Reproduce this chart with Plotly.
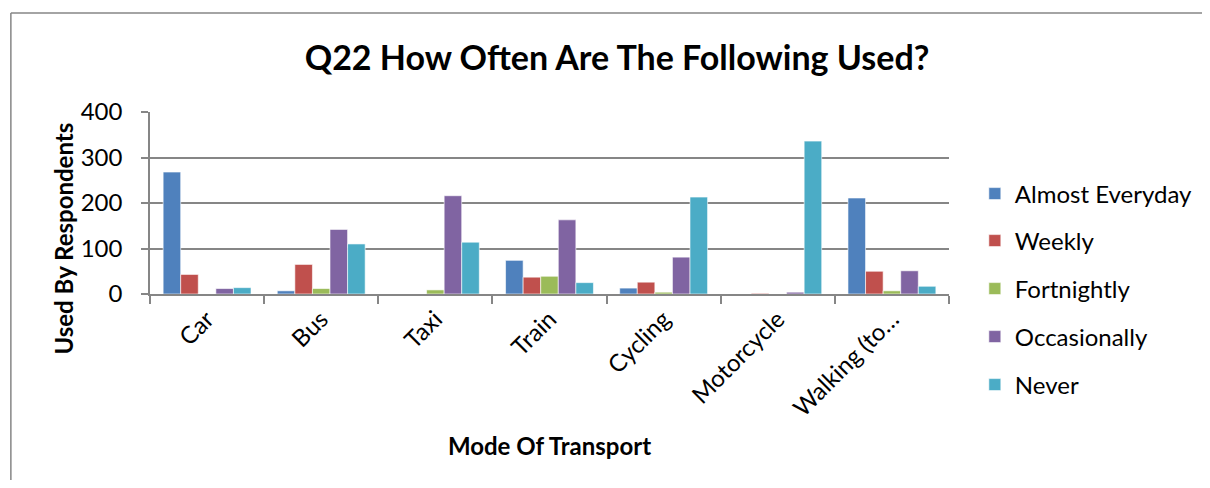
import plotly.graph_objects as go

modes = ["Car", "Bus", "Taxi", "Train", "Cycling", "Motorcycle", "Walking (to…"]
almost_everyday = [268, 7, 0, 74, 13, 0, 211]
weekly = [43, 65, 0, 37, 26, 1.5, 50]
fortnightly = [0, 12, 9, 39, 4, 0, 7]
occasionally = [12, 142, 216, 163, 81, 4, 51]
never = [14, 110, 114, 25, 213, 336, 17]

series = [
    ("Almost Everyday", almost_everyday, "#4F81BD"),
    ("Weekly", weekly, "#C0504D"),
    ("Fortnightly", fortnightly, "#9BBB59"),
    ("Occasionally", occasionally, "#8064A2"),
    ("Never", never, "#4BACC6"),
]

# page has an 8px body margin, so figure coords = page coords - 8
OFF = 8
W, H = 1210 - OFF, 488 - 2 * OFF
L, R, T, B = 150 - OFF, 954 - OFF, 112 - OFF, 294 - OFF
pw, ph = R - L, B - T
legend_y = [194, 241, 289, 337, 385]  # page y of legend rows


def px(x):
    return (x - OFF - L) / pw


def py(y):
    return (B - (y - OFF)) / ph


fig = go.Figure()
legends = {}
for i, (name, vals, col) in enumerate(series):
    key = "legend" if i == 0 else f"legend{i + 1}"
    fig.add_trace(go.Bar(
        name=name, x=modes, y=vals, marker_color=col,
        marker_line=dict(color="white", width=0.6),
        legend=key,
    ))
    legends[key] = dict(
        x=px(980), xanchor="left", y=py(legend_y[i]), yanchor="middle",
        font=dict(size=24), itemwidth=30, bgcolor="rgba(0,0,0,0)",
    )

grey = "#868686"
fig.update_layout(
    width=W, height=H,
    margin=dict(l=L, r=W - R, t=T, b=H - B),
    barmode="group", bargap=0.23, bargroupgap=0,
    paper_bgcolor="white", plot_bgcolor="white",
    font=dict(family="Lato, Open Sans, sans-serif", size=24, color="black"),
    title=dict(text="<b>Q22 How Often Are The Following Used?</b>",
               x=(617 - OFF) / W, xanchor="center",
               y=1 - (58 - OFF) / H, yanchor="middle",
               font=dict(size=34)),
    showlegend=True,
    **legends,
)
fig.update_xaxes(
    showline=True, linecolor=grey, linewidth=1.5,
    ticks="outside", tickson="boundaries", ticklen=8, tickcolor=grey, tickwidth=1.5,
    tickangle=-45, tickfont=dict(size=24),
    title=dict(text="<b>Mode Of Transport</b>", font=dict(size=24), standoff=18),
)
fig.update_yaxes(
    range=[0, 400], dtick=100,
    showline=True, linecolor=grey, linewidth=1.5,
    showgrid=True, gridcolor=grey, gridwidth=1.5,
    ticks="outside", ticklen=7, tickcolor=grey, tickwidth=1.5,
    tickfont=dict(size=24), zeroline=False, ticklabelstandoff=14,
)
# y axis title, placed like the original (below the plot centre)
fig.add_annotation(text="<b>Used By Respondents</b>", textangle=-90,
                   xref="paper", yref="paper", x=px(62), y=py(239),
                   xanchor="center", yanchor="middle", showarrow=False,
                   font=dict(size=24))
# chart-area border: only top and left edges are in view
fig.add_shape(type="line", xref="paper", yref="paper",
              x0=px(10), x1=px(1260), y0=py(13), y1=py(13),
              line=dict(color=grey, width=1.5))
fig.add_shape(type="line", xref="paper", yref="paper",
              x0=px(10), x1=px(10), y0=py(13), y1=py(560),
              line=dict(color=grey, width=1.5))

fig.write_html("out.html")
